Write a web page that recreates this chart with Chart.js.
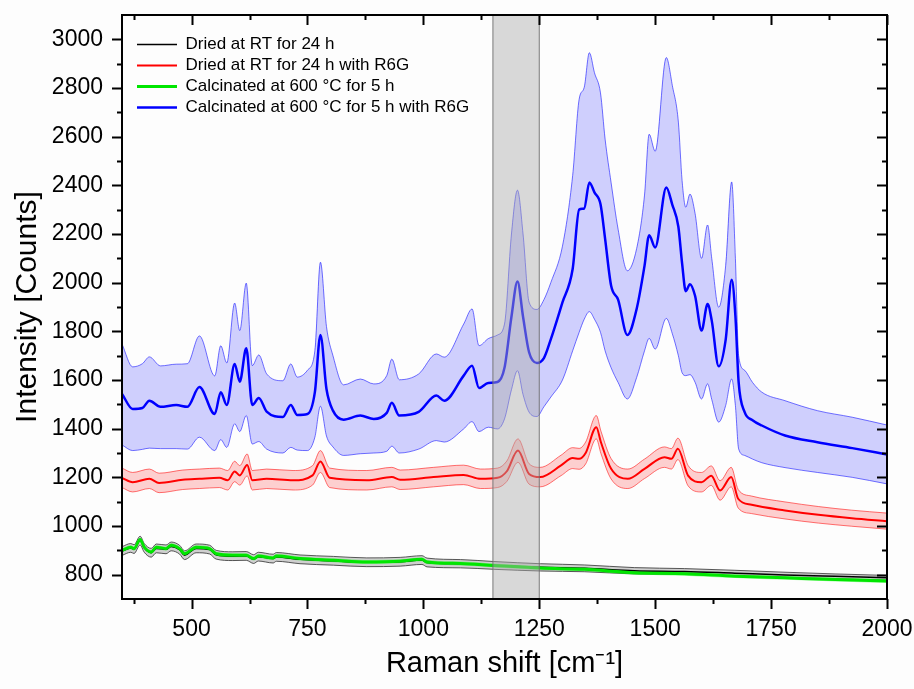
<!DOCTYPE html>
<html>
<head>
<meta charset="utf-8">
<script src="https://cdn.jsdelivr.net/npm/chart.js@4.4.0/dist/chart.umd.min.js"></script>
<style>
  html, body { margin: 0; padding: 0; background: #fdfdfd; }
  #wrap { width: 914px; height: 689px; }
</style>
</head>
<body>
<div id="wrap"><canvas id="myChart"></canvas></div>
<script>
// series labels (legend order)
const seriesLabels = [
  'Dried at RT for 24 h',
  'Dried at RT for 24 h with R6G',
  'Calcinated at 600 \u00B0C for 5 h',
  'Calcinated at 600 \u00B0C for 5 h with R6G'
];

// calcinated + R6G (blue): mean and band edges, Raman shift in cm-1
const blueX = [350, 373, 394, 409, 433, 467, 491, 517, 550, 563,
  576, 593, 604, 618, 631, 645, 662, 697, 714, 728,
  750, 766, 778, 791, 805, 828, 864, 893, 921, 932,
  948, 990, 1028, 1045, 1087, 1105, 1120, 1140, 1160, 1175,
  1190, 1203, 1215, 1228, 1245, 1260, 1275, 1300, 1322, 1336,
  1347, 1358, 1369, 1382, 1392, 1405, 1420, 1440, 1460, 1477,
  1487, 1500, 1524, 1537, 1550, 1558, 1566, 1575, 1586, 1600,
  1613, 1622, 1637, 1652, 1665, 1673, 1680, 1693, 1710, 1730,
  1780, 1850, 1925, 2000];
const blueMean = [1543, 1481, 1485, 1515, 1490, 1497, 1490, 1571, 1460, 1550,
  1497, 1666, 1593, 1730, 1497, 1526, 1470, 1448, 1497, 1456,
  1460, 1550, 1785, 1563, 1474, 1437, 1454, 1440, 1465, 1506,
  1454, 1469, 1536, 1515, 1618, 1659, 1567, 1588, 1592, 1650,
  1860, 2005, 1860, 1714, 1670, 1690, 1768, 1919, 2056, 2300,
  2305, 2412, 2371, 2323, 2180, 1987, 1930, 1785, 1892, 2069,
  2195, 2145, 2391, 2320, 2230, 2080, 1965, 1994, 1946, 1803,
  1912, 1844, 1656, 1765, 2012, 1864, 1591, 1468, 1435, 1413,
  1372, 1344, 1320, 1294];
const blueUpper = [1748, 1654, 1667, 1695, 1658, 1665, 1667, 1781, 1617, 1741,
  1670, 1916, 1803, 1998, 1659, 1703, 1625, 1597, 1666, 1612,
  1640, 1720, 2084, 1820, 1700, 1580, 1604, 1584, 1618, 1686,
  1601, 1625, 1707, 1694, 1830, 1892, 1741, 1770, 1785, 1830,
  2200, 2380, 2200, 1920, 1890, 1930, 2001, 2150, 2440, 2754,
  2803, 2945, 2863, 2780, 2590, 2410, 2220, 2049, 2140, 2360,
  2610, 2540, 2925, 2810, 2660, 2420, 2310, 2364, 2285, 2100,
  2237, 2100, 1899, 2069, 2414, 2100, 1700, 1640, 1590, 1550,
  1515, 1474, 1447, 1415];
const blueLower = [1333, 1310, 1315, 1320, 1318, 1318, 1316, 1365, 1310, 1355,
  1323, 1420, 1388, 1454, 1337, 1347, 1316, 1300, 1323, 1312,
  1310, 1365, 1492, 1370, 1325, 1290, 1297, 1300, 1307, 1328,
  1300, 1316, 1351, 1345, 1399, 1429, 1388, 1406, 1399, 1440,
  1560, 1638, 1540, 1468, 1450, 1490, 1530, 1600, 1720, 1796,
  1850, 1881, 1850, 1796, 1720, 1650, 1590, 1522, 1610, 1720,
  1771, 1727, 1853, 1790, 1700, 1630, 1618, 1622, 1591, 1522,
  1584, 1520, 1427, 1495, 1604, 1495, 1317, 1290, 1275, 1260,
  1240, 1220, 1200, 1173];

// dried + R6G (red): mean and half-width of band
const redX = [350, 373, 409, 430, 481, 517, 560, 578, 593, 604,
  620, 631, 662, 719, 761, 778, 798, 878, 932, 950,
  1022, 1087, 1123, 1160, 1180, 1204, 1228, 1252, 1297, 1322,
  1336, 1350, 1373, 1383, 1405, 1441, 1477, 1520, 1535, 1549,
  1571, 1600, 1621, 1640, 1664, 1679, 1708, 1780, 1852, 1924, 2000];
const redMean = [1198, 1180, 1194, 1177, 1190, 1194, 1198, 1188, 1224, 1208,
  1251, 1188, 1194, 1188, 1208, 1265, 1198, 1188, 1201, 1190,
  1201, 1210, 1194, 1198, 1225, 1310, 1214, 1201, 1249, 1279,
  1276, 1300, 1406, 1344, 1235, 1194, 1235, 1283, 1276, 1317,
  1207, 1180, 1207, 1146, 1201, 1112, 1087, 1064, 1046, 1032, 1020];
const redSpread = [40, 40, 40, 40, 40, 40, 40, 40, 42, 40,
  45, 40, 40, 40, 40, 45, 40, 40, 40, 40,
  40, 40, 40, 40, 42, 48, 42, 40, 42, 43,
  43, 45, 48, 46, 42, 40, 40, 42, 42, 44,
  42, 40, 40, 40, 40, 38, 36, 35, 34, 33, 33];

// samples without R6G (black = dried, green = calcinated)
const baseX = [350, 369, 376, 389, 398, 413, 424, 445, 456, 474,
  485, 510, 539, 553, 589, 618, 634, 644, 676, 683,
  734, 806, 878, 950, 997, 1008, 1080, 1152, 1253, 1347,
  1455, 1563, 1672, 1780, 1888, 2000];
const blackMean = [897, 910, 905, 940, 910, 890, 908, 904, 916, 903,
  880, 908, 903, 882, 876, 877, 864, 874, 866, 873,
  863, 857, 851, 853, 860, 850, 845, 838, 830, 826,
  816, 813, 806, 799, 793, 787];
const blackSpread = [18, 18, 18, 18, 18, 18, 18, 18, 18, 18,
  18, 18, 18, 18, 18, 18, 18, 18, 18, 18,
  18, 18, 18, 18, 18, 18, 17, 16, 15, 14,
  13, 12, 12, 11, 10, 10];
const greenMean = [900, 913, 907, 945, 913, 893, 913, 907, 921, 907,
  886, 913, 907, 886, 880, 880, 866, 877, 869, 877,
  866, 859, 852, 855, 863, 852, 846, 838, 827, 822,
  808, 804, 794, 787, 780, 774];
const greenSpread = [8, 8, 8, 8, 8, 8, 8, 8, 8, 8,
  8, 8, 8, 8, 8, 8, 8, 8, 8, 8,
  8, 8, 8, 8, 8, 8, 8, 8, 8, 8,
  8, 8, 8, 8, 8, 8];

// shaded region on the x axis
const highlight = [1150, 1250];

function pts(xs, ys) {
  return xs.map((x, i) => ({ x: x, y: ys[i] }));
}
function edge(xs, ys, d, sign) {
  return xs.map((x, i) => ({ x: x, y: ys[i] + sign * d[i] }));
}

function mainLine(label, data, color, width, order) {
  return { label: label, data: data, borderColor: color, backgroundColor: color,
    borderWidth: width, pointRadius: 0, fill: false, order: order,
    cubicInterpolationMode: 'monotone' };
}
function bandLine(data, line, fillColor, fillTo, order) {
  return { label: '', data: data, borderColor: line, backgroundColor: fillColor,
    borderWidth: 1, pointRadius: 0, fill: fillTo, order: order,
    cubicInterpolationMode: 'monotone' };
}

const datasets = [
  mainLine(seriesLabels[0], pts(baseX, blackMean), '#000000', 1.5, 3),
  mainLine(seriesLabels[1], pts(redX, redMean), '#ff0000', 2, 2),
  mainLine(seriesLabels[2], pts(baseX, greenMean), '#00e600', 3, 1),
  mainLine(seriesLabels[3], pts(blueX, blueMean), '#0000ff', 2.5, 2),
  bandLine(edge(baseX, blackMean, blackSpread, 1), 'rgba(50,50,50,0.8)', 'rgba(0,0,0,0.18)', '+1', 11),
  bandLine(edge(baseX, blackMean, blackSpread, -1), 'rgba(50,50,50,0.8)', 'rgba(0,0,0,0.18)', false, 11),
  bandLine(edge(redX, redMean, redSpread, 1), 'rgba(255,0,0,0.55)', 'rgba(255,0,0,0.18)', '+1', 10),
  bandLine(edge(redX, redMean, redSpread, -1), 'rgba(255,0,0,0.55)', 'rgba(255,0,0,0.18)', false, 10),
  bandLine(edge(baseX, greenMean, greenSpread, 1), 'rgba(0,220,0,0.0)', 'rgba(0,255,0,0.35)', '+1', 9),
  bandLine(edge(baseX, greenMean, greenSpread, -1), 'rgba(0,220,0,0.0)', 'rgba(0,255,0,0.35)', false, 9),
  bandLine(pts(blueX, blueUpper), 'rgba(0,0,255,0.55)', 'rgba(0,0,255,0.18)', '+1', 10),
  bandLine(pts(blueX, blueLower), 'rgba(0,0,255,0.55)', 'rgba(0,0,255,0.18)', false, 10)
];

// no extra room for overhanging tick labels
function noOverhang(s) {
  s.paddingTop = 0; s.paddingBottom = 0;
  s.paddingLeft = 0; s.paddingRight = 0;
}

// frame, tick marks and the grey highlight
const framePlugin = {
  id: 'frame',
  afterLayout(chart) {
    const lg = chart.legend;
    lg.left += 11; lg.right += 11;
    lg.top += 32; lg.bottom += 32;
  },
  afterDatasetsDraw(chart) {
    const { ctx, chartArea: a, scales: { x, y } } = chart;
    ctx.save();
    const h0 = x.getPixelForValue(highlight[0]);
    const h1 = x.getPixelForValue(highlight[1]);
    ctx.fillStyle = 'rgba(170,170,170,0.45)';
    ctx.fillRect(h0, a.top, h1 - h0, a.bottom - a.top);
    ctx.strokeStyle = 'rgba(110,110,110,0.9)';
    ctx.lineWidth = 1;
    ctx.strokeRect(h0, a.top, h1 - h0, a.bottom - a.top);

    ctx.strokeStyle = '#000';
    ctx.lineWidth = 2;
    ctx.strokeRect(a.left, a.top, a.right - a.left, a.bottom - a.top);

    x.ticks.forEach(t => {
      const px = Math.round(x.getPixelForValue(t.value)) + 0.5;
      const len = t.value % 250 === 0 ? 10 : 5;
      ctx.beginPath();
      ctx.moveTo(px, a.bottom); ctx.lineTo(px, a.bottom + len);
      ctx.moveTo(px, a.top); ctx.lineTo(px, a.top + len);
      ctx.stroke();
    });
    y.ticks.forEach(t => {
      if (t.value <= y.min || t.value >= y.max) return;
      const py = Math.round(y.getPixelForValue(t.value)) + 0.5;
      const len = t.value % 200 === 0 ? 10 : 5;
      ctx.beginPath();
      ctx.moveTo(a.left - len, py); ctx.lineTo(a.left, py);
      ctx.moveTo(a.right - len, py); ctx.lineTo(a.right, py);
      ctx.stroke();
    });
    ctx.restore();
  }
};

Chart.defaults.font.family = "'Liberation Sans', Arial, sans-serif";
Chart.defaults.color = '#000';

const ctx = document.getElementById('myChart');
new Chart(ctx, {
  type: 'line',
  data: { datasets: datasets },
  options: {
    responsive: true,
    maintainAspectRatio: false,
    animation: false,
    layout: { padding: { top: 15, right: 27, left: 0, bottom: 0 } },
    plugins: {
      tooltip: { enabled: false },
      legend: {
        position: 'chartArea',
        align: 'start',
        labels: {
          filter: item => item.datasetIndex < 4,
          sort: (a, b) => a.datasetIndex - b.datasetIndex,
          usePointStyle: true,
          pointStyle: 'line',
          pointStyleWidth: 40,
          padding: 4,
          color: '#000',
          font: { size: 17 }
        }
      }
    },
    scales: {
      x: {
        type: 'linear',
        min: 350,
        max: 2000,
        afterFit: s => { s.height = 90; noOverhang(s); },
        grid: { display: false, drawTicks: false },
        border: { display: false },
        ticks: {
          stepSize: 125,
          includeBounds: false,
          autoSkip: false,
          maxRotation: 0,
          padding: 17,
          font: { size: 23 },
          callback: v => (v % 250 === 0 ? String(v) : '')
        },
        title: {
          display: true,
          text: 'Raman shift [cm\u207B\u00B9]',
          font: { size: 29 },
          padding: { top: 0, bottom: 8 }
        }
      },
      y: {
        min: 700,
        max: 3100,
        afterFit: s => { s.width = 122; noOverhang(s); },
        grid: { display: false, drawTicks: false },
        border: { display: false },
        ticks: {
          stepSize: 100,
          autoSkip: false,
          padding: 19,
          font: { size: 23 },
          callback: v => (v % 200 === 0 ? String(v) : '')
        },
        title: {
          display: true,
          text: 'Intensity [Counts]',
          font: { size: 30 },
          padding: { top: 10, bottom: 0 }
        }
      }
    }
  },
  plugins: [framePlugin]
});
</script>
</body>
</html>
